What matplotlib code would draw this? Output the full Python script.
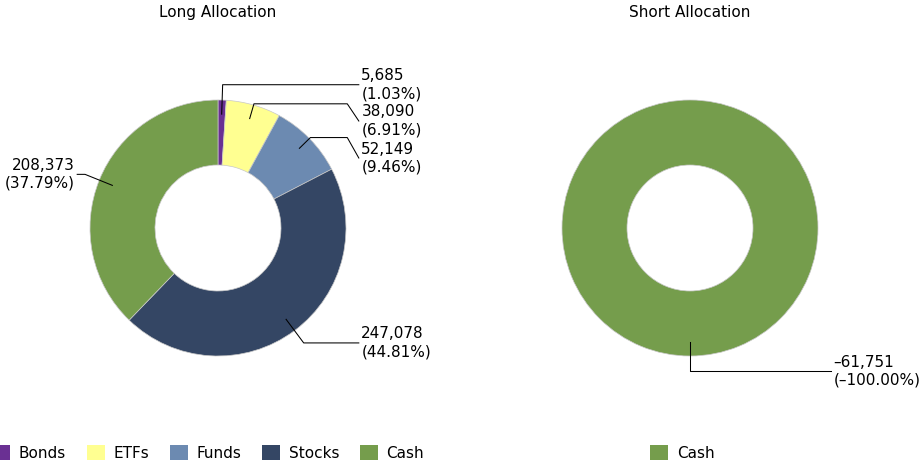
import numpy as np
import matplotlib.pyplot as plt
from matplotlib.patches import Patch

W, H = 921, 465

long_labels = ["Bonds", "ETFs", "Funds", "Stocks", "Cash"]
long_values = [5685, 38090, 52149, 247078, 208373]
short_labels = ["Cash"]
short_values = [-61751]

colors = {
    "Bonds": "#6a3093",
    "ETFs": "#ffff91",
    "Funds": "#6c8ab1",
    "Stocks": "#344664",
    "Cash": "#759d4c",
}

plt.rcParams["font.family"] = ["DejaVu Sans"]
plt.rcParams["font.size"] = 11

fig = plt.figure(figsize=(W / 100, H / 100), dpi=100)
ax = fig.add_axes([0, 0, 1, 1])

R = 128
HOLE = 63


def donut(cx, cy, labels, values, title, elbow_k, label_y):
    total = sum(values)
    wedges, _ = ax.pie(
        np.abs(values), colors=[colors[l] for l in labels], center=(cx, cy), radius=R,
        startangle=90, counterclock=False,
        wedgeprops=dict(width=R - HOLE, edgecolor="#c8c8c8", linewidth=0.5),
    )
    ax.text(cx, H - 13, title, ha="center", va="center")

    for w, v, k, ly in zip(wedges, values, elbow_k, label_y):
        a = np.deg2rad((w.theta1 + w.theta2) / 2)
        ux, uy = np.cos(a), np.sin(a)
        side = 1 if ux > -0.01 else -1

        start = (cx + 0.89 * R * ux, cy + 0.89 * R * uy)
        elbow = (cx + k * R * ux, cy + k * R * uy)
        ty = elbow[1] if ly is None else H - ly
        pts = [start, elbow]
        link_x = cx + side * 1.01 * R
        if side * (link_x - elbow[0]) > 0:
            pts.append((link_x, elbow[1]))
        pts.append((cx + side * 1.10 * R, ty))
        xs, ys = zip(*pts)
        ax.plot(xs, ys, color="black", lw=0.75)

        pct = 100 * v / abs(total)
        txt = f"{v:,}\n({pct:.2f}%)".replace("-", "\u2013")
        ax.text(cx + side * 1.12 * R, ty, txt, ha="left" if side > 0 else "right",
                va="center", linespacing=1.25)


donut(218, H - 228, long_labels, long_values, "Long Allocation",
      elbow_k=[1.12, 1.01, 1.01, 1.12, 1.12],
      label_y=[None, 121, 158, None, None])
donut(690, H - 228, short_labels, short_values, "Short Allocation",
      elbow_k=[1.12], label_y=[None])

ax.set_xlim(0, W)
ax.set_ylim(0, H)
ax.set_aspect("equal")
ax.axis("off")

leg_kw = dict(loc="center left", frameon=False, borderpad=0, borderaxespad=0,
              handlelength=1.2, handleheight=1.1, handletextpad=0.55,
              columnspacing=1.35, fontsize=11)
fig.legend(handles=[Patch(facecolor=colors[l], label=l) for l in long_labels],
           bbox_to_anchor=(-8 / W, 1 - 453 / H), ncol=len(long_labels), **leg_kw)
fig.legend(handles=[Patch(facecolor=colors[l], label=l) for l in short_labels],
           bbox_to_anchor=(650 / W, 1 - 453 / H), ncol=1, **leg_kw)

fig.savefig("out.png", dpi=100)
